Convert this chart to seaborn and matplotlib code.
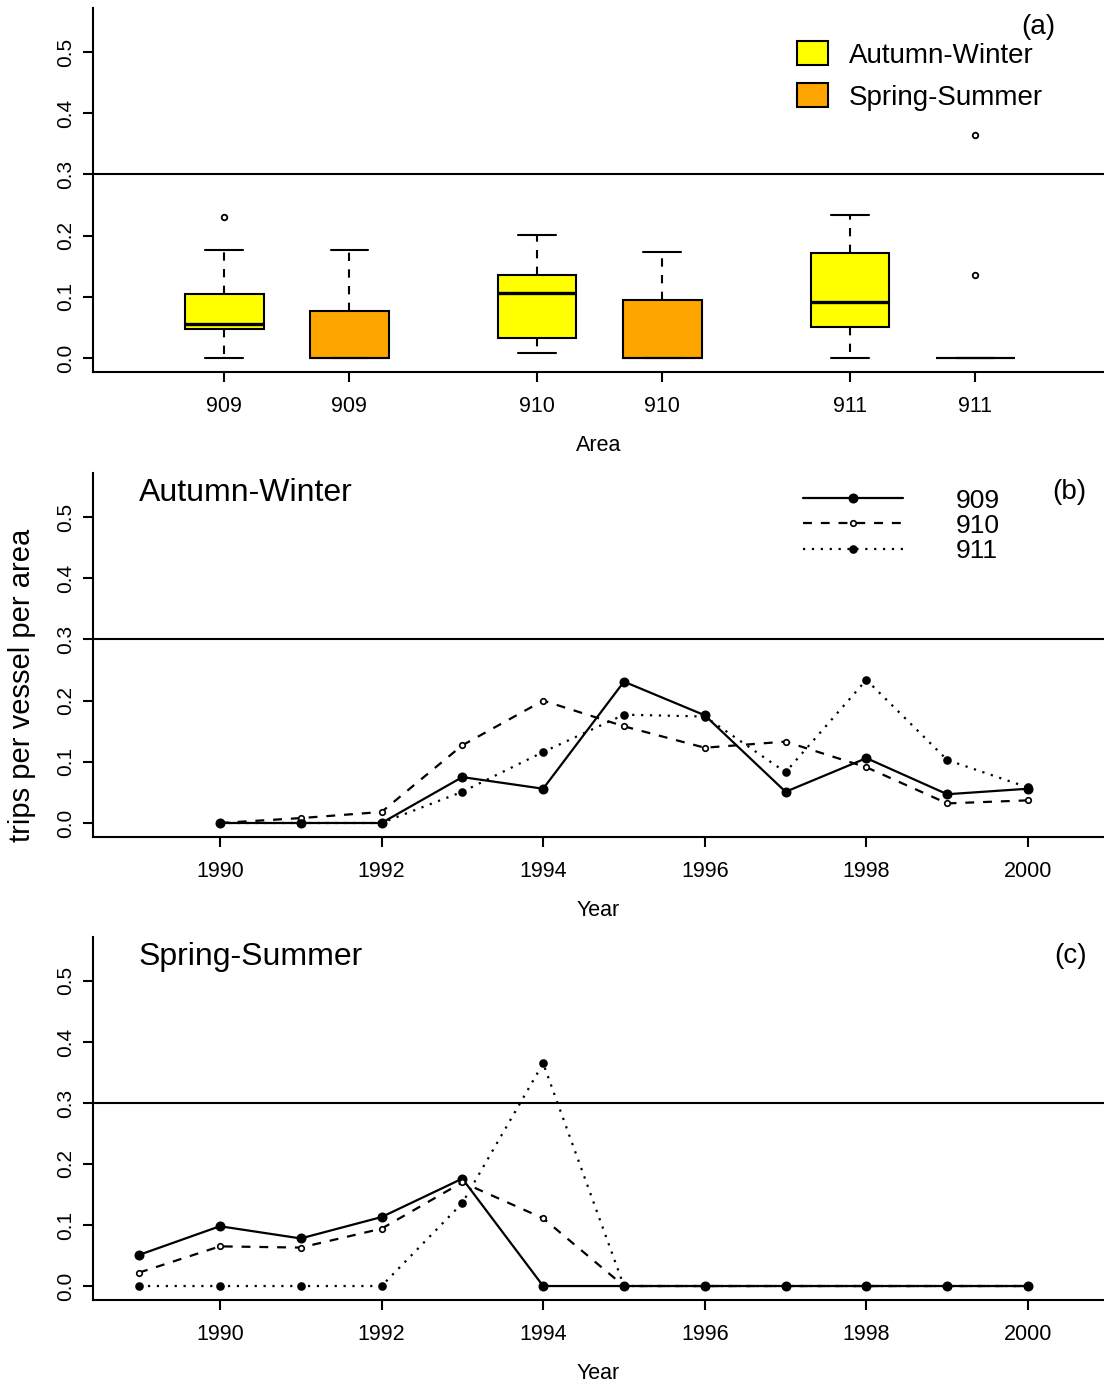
import seaborn as sns
import matplotlib.pyplot as plt
from matplotlib.patches import Patch

# ---- data ----
years_aw = [1990, 1991, 1992, 1993, 1994, 1995, 1996, 1997, 1998, 1999, 2000]
aw_909 = [0.0, 0.0, 0.0, 0.075, 0.056, 0.231, 0.176, 0.051, 0.106, 0.047, 0.056]
aw_910 = [0.0, 0.008, 0.018, 0.127, 0.200, 0.158, 0.123, 0.133, 0.091, 0.032, 0.037]
aw_911 = [0.0, 0.0, 0.0, 0.051, 0.116, 0.177, 0.174, 0.083, 0.234, 0.103, 0.058]

years_ss = [1989, 1990, 1991, 1992, 1993, 1994, 1995, 1996, 1997, 1998, 1999, 2000]
ss_909 = [0.051, 0.098, 0.078, 0.113, 0.176, 0.0, 0.0, 0.0, 0.0, 0.0, 0.0, 0.0]
ss_910 = [0.022, 0.065, 0.063, 0.094, 0.170, 0.111, 0.0, 0.0, 0.0, 0.0, 0.0, 0.0]
ss_911 = [0.0, 0.0, 0.0, 0.0, 0.136, 0.365, 0.0, 0.0, 0.0, 0.0, 0.0, 0.0]

# box summaries per area (a)
areas = ["909", "910", "911"]
aw_whislo = [0.0, 0.008, 0.0]
aw_q1 = [0.047, 0.033, 0.051]
aw_med = [0.056, 0.107, 0.092]
aw_q3 = [0.104, 0.135, 0.171]
aw_whishi = [0.177, 0.201, 0.234]
aw_fliers = [[0.231], [], []]

ss_whislo = [0.0, 0.0, 0.0]
ss_q1 = [0.0, 0.0, 0.0]
ss_med = [0.0, 0.0, 0.0]
ss_q3 = [0.077, 0.094, 0.0]
ss_whishi = [0.177, 0.174, 0.0]
ss_fliers = [[], [], [0.136, 0.365]]

seasons = ["Autumn-Winter", "Spring-Summer"]
season_colors = ["#FFFF00", "#FFA500"]
yticks = [0.0, 0.1, 0.2, 0.3, 0.4, 0.5]
year_ticks = [1990, 1992, 1994, 1996, 1998, 2000]

sns.set_theme(style="ticks")
plt.rcParams["font.family"] = ["Liberation Sans", "DejaVu Sans"]
plt.rcParams.update({
    "axes.linewidth": 1.5,
    "xtick.major.width": 1.5,
    "ytick.major.width": 1.5,
    "xtick.major.size": 7,
    "ytick.major.size": 7,
    "xtick.major.pad": 10,
    "ytick.major.pad": 6,
    "xtick.labelsize": 15.5,
    "ytick.labelsize": 15,
    "axes.labelsize": 15.5,
    "xtick.color": "black",
    "ytick.color": "black",
    "axes.edgecolor": "black",
    "axes.labelcolor": "black",
    "text.color": "black",
})

W, H = 1104, 1387
fig = plt.figure(figsize=(W / 100, H / 100), dpi=100)
left = 93 / W


def pos(top, bottom):
    return [left, 1 - bottom / H, 1 - left, (bottom - top) / H]


ax_a = fig.add_axes(pos(8, 372))
ax_b = fig.add_axes(pos(473, 837))
ax_c = fig.add_axes(pos(937, 1300))

ylim = (-0.0229, 0.572)
for ax in (ax_a, ax_b, ax_c):
    ax.set_ylim(*ylim)
    ax.set_yticks(yticks)
    ax.set_yticklabels([f"{v:.1f}" for v in yticks], rotation=90, va="center")
    ax.axhline(0.3, color="black", lw=1.5, zorder=1)
    sns.despine(ax=ax)

# ---- (a) boxplots ----
aw_pos = [1, 3.5, 6]
ss_pos = [2, 4.5, 7]


def make_stats(lo, q1, med, q3, hi, fl):
    return [dict(whislo=lo[i], q1=q1[i], med=med[i], q3=q3[i], whishi=hi[i], fliers=fl[i])
            for i in range(len(lo))]


box_kw = dict(widths=0.63, capwidths=0.30, patch_artist=True, manage_ticks=False,
              whiskerprops=dict(color="black", lw=1.5, linestyle=(0, (4, 4))),
              capprops=dict(color="black", lw=1.5),
              flierprops=dict(marker="o", mfc="none", mec="black", ms=4, mew=1.3))
for stats, p, col, mlw in [
    (make_stats(aw_whislo, aw_q1, aw_med, aw_q3, aw_whishi, aw_fliers), aw_pos, season_colors[0], 2.4),
    (make_stats(ss_whislo, ss_q1, ss_med, ss_q3, ss_whishi, ss_fliers), ss_pos, season_colors[1], 1.5),
]:
    ax_a.bxp(stats, positions=p,
             boxprops=dict(facecolor=col, edgecolor="black", lw=1.5),
             medianprops=dict(color="black", lw=mlw), **box_kw)

ticks_a = sorted(aw_pos + ss_pos)
ax_a.set_xticks(ticks_a)
ax_a.set_xticklabels([a for a in areas for _ in range(2)])
ax_a.set_xlim(-0.048, 8.03)
ax_a.set_xlabel("Area", labelpad=13)

handles = [Patch(facecolor=c, edgecolor="black", lw=1.5) for c in season_colors]
ax_a.legend(handles, seasons, loc="upper left", bbox_to_anchor=(0.696, 0.908),
            frameon=False, fontsize=20, handlelength=1.14, handleheight=0.93,
            handletextpad=0.75, labelspacing=0.52, borderpad=0, borderaxespad=0)
ax_a.text(0.9515, 0.948, "(a)", transform=ax_a.transAxes, ha="right", va="center", fontsize=20)

# ---- (b) and (c) lines ----
series_style = {
    "909": dict(linestyle="-", lw=1.6, marker="o", ms=6, mfc="black"),
    "910": dict(linestyle=(0, (4, 4)), lw=1.6, marker="o", ms=4, mfc="white"),
    "911": dict(linestyle=(0, (1, 3)), lw=1.6, marker="o", ms=5, mfc="black"),
}

panels = [
    (ax_b, years_aw, [aw_909, aw_910, aw_911], "Autumn-Winter", "(b)"),
    (ax_c, years_ss, [ss_909, ss_910, ss_911], "Spring-Summer", "(c)"),
]
for ax, yrs, vals, title, tag in panels:
    for name, v in zip(areas, vals):
        st = series_style[name]
        sns.lineplot(x=yrs, y=v, ax=ax, color="black", label=name,
                     mec="black", mew=1.2, legend=False, **st)
    ax.set_xlim(1988.43, 2000.94)
    ax.set_ylim(*ylim)
    ax.set_xticks(year_ticks)
    ax.set_xticklabels([str(y) for y in year_ticks])
    ax.set_xlabel("Year", labelpad=13)
    ax.set_ylabel("")
    ax.text(0.0455, 0.945, title, transform=ax.transAxes, ha="left", va="center", fontsize=23)
    ax.text(0.983, 0.948, tag, transform=ax.transAxes, ha="right", va="center", fontsize=20)

line_handles = [l for l in ax_b.get_lines() if l.get_label() in areas]
ax_b.legend(line_handles, areas, loc="upper left", bbox_to_anchor=(0.702, 0.957),
            frameon=False, fontsize=19, handlelength=3.8, handletextpad=2.0,
            labelspacing=0.04, borderpad=0, borderaxespad=0, numpoints=1)

fig.text(22 / W, 1 - 685 / H, "trips per vessel per area", rotation=90,
         ha="center", va="center", fontsize=21)

fig.savefig("out.png", dpi=100)
